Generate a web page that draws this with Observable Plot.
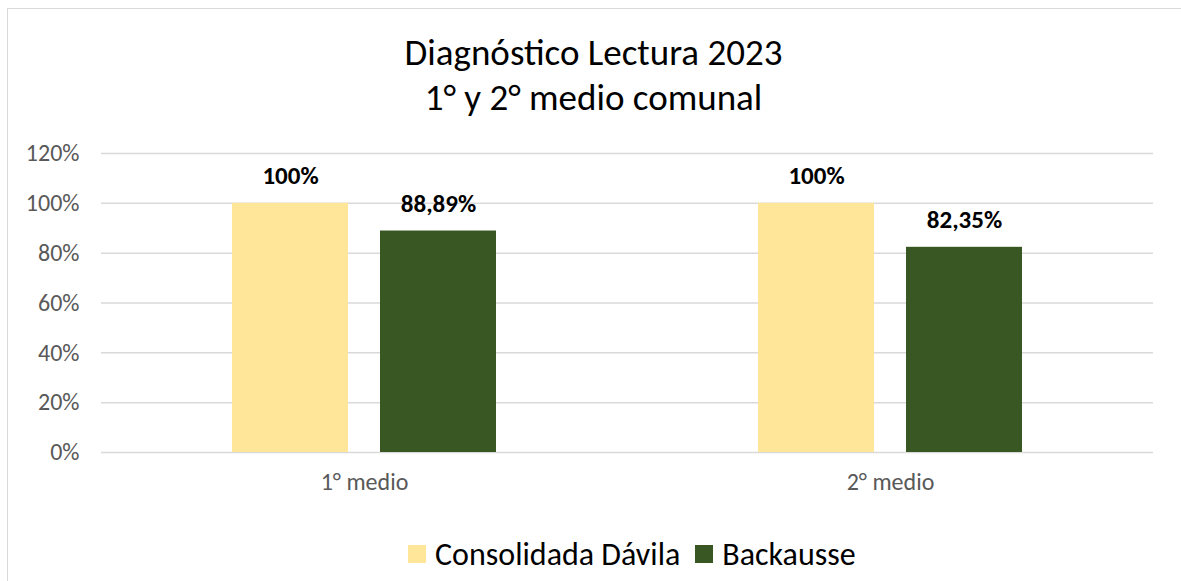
<!DOCTYPE html>
<html>
<head>
<meta charset="utf-8">
<script src="https://cdn.jsdelivr.net/npm/d3@7"></script>
<script src="https://cdn.jsdelivr.net/npm/@observablehq/plot@0.6"></script>
<style>
  html, body { margin: 0; padding: 0; background: #fff; }
  #wrap { position: relative; width: 1181px; height: 581px; overflow: hidden; font-family: Carlito, Calibri, Lato, sans-serif; }
  #frame { position: absolute; left: 7px; top: 8px; width: 1180px; height: 600px; border: 1.5px solid #d9d9d9; box-sizing: border-box; }
  #title { position: absolute; left: 0; width: 1187px; top: 30px; text-align: center; font-size: 37px; line-height: 45px; color: #000; }
  #chart { position: absolute; left: 0; top: 125px; }
  #legend { position: absolute; left: 408px; top: 533px; white-space: nowrap; font-size: 32px; color: #000; }
  .li { display: inline-flex; align-items: center; margin-right: 15px; }
  .sw { display: inline-block; width: 18px; height: 18px; margin-right: 9px; }
</style>
</head>
<body>
<div id="wrap">
  <div id="frame"></div>
  <div id="title">Diagnóstico Lectura 2023<br>1° y 2° medio comunal</div>
  <div id="chart"></div>
  <div id="legend"></div>
</div>
<script>
const categories = ["1° medio", "2° medio"];
const series = ["Consolidada Dávila", "Backausse"];
const consolidada = [1.00, 1.00];
const backausse = [0.8889, 0.8235];
const colors = ["#FFE699", "#385723"];
const yTicks = [0, 0.2, 0.4, 0.6, 0.8, 1.0, 1.2];

const fmt = v => v === 1 ? "100%" : (v * 100).toFixed(2).replace(".", ",") + "%";

const data = [];
categories.forEach((c, i) => {
  data.push({cat: c, s: series[0], v: consolidada[i]});
  data.push({cat: c, s: series[1], v: backausse[i]});
});

const plot = Plot.plot({
  width: 1181,
  height: 375,
  marginTop: 28,
  marginBottom: 48,
  marginLeft: 100,
  marginRight: 28,
  style: {fontFamily: "Carlito, Calibri, Lato, sans-serif", background: "transparent"},
  fx: {domain: categories, paddingInner: 0, paddingOuter: 0, label: null},
  x: {domain: series, paddingInner: 0.215, paddingOuter: 0.874, axis: null},
  y: {domain: [0, 1.2], ticks: yTicks, label: null},
  color: {domain: series, range: colors},
  marks: [
    Plot.gridY(yTicks, {stroke: "#d9d9d9", strokeOpacity: 1, strokeWidth: 1.5}),
    Plot.barY(data, {fx: "cat", x: "s", y: "v", fill: "s"}),
    Plot.text(data, {fx: "cat", x: "s", y: "v", text: d => fmt(d.v), lineAnchor: "bottom", dy: -19, fontSize: 25, fontWeight: "bold", fill: "#000"}),
    Plot.axisY(yTicks, {tickSize: 0, tickPadding: 22, tickFormat: d => Math.round(d * 100) + "%", fontSize: 24, fill: "#595959", label: null}),
    Plot.axisFx({anchor: "bottom", tickSize: 0, tickPadding: 20, fontSize: 24, fill: "#595959", label: null})
  ]
});
document.getElementById("chart").appendChild(plot);

const legend = document.getElementById("legend");
series.forEach((s, i) => {
  const item = document.createElement("span");
  item.className = "li";
  const sw = document.createElement("span");
  sw.className = "sw";
  sw.style.background = colors[i];
  item.appendChild(sw);
  item.appendChild(document.createTextNode(s));
  legend.appendChild(item);
});
</script>
</body>
</html>
